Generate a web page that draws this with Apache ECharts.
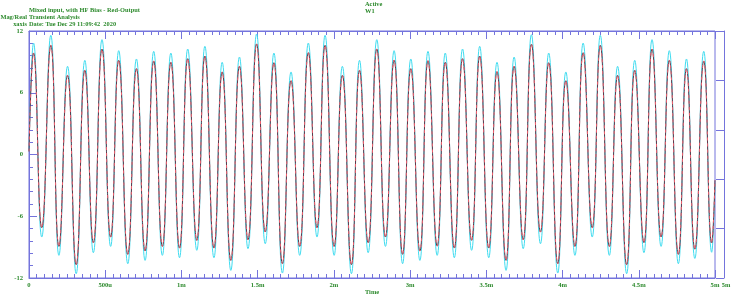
<!DOCTYPE html>
<html>
<head>
<meta charset="utf-8">
<script src="https://cdn.jsdelivr.net/npm/echarts@6/dist/echarts.min.js"></script>
<style>
html,body{margin:0;padding:0;background:#fff;}
#c{width:732px;height:297px;}
</style>
</head>
<body>
<div id="c"></div>
<script>
// ---- data ----
// x tick labels (9 equal divisions from 0 to 5 ms, labels as printed)
const xTickLabels = ['0','500u','1m','1.5m','2m','3m','3.5m','4m','4.5m','5m'];
const xAxisTitle = 'Time';
const timeStartMs = 0;
const timeEndMs = 5;
// times (ms) of the peaks and troughs of the traces
const peakTimeMs = [0.033,0.159,0.281,0.407,0.532,0.654,0.783,0.909,1.034,1.157,
  1.282,1.408,1.534,1.659,1.785,1.910,2.036,2.158,2.284,2.409,
  2.535,2.661,2.783,2.908,3.034,3.160,3.285,3.411,3.536,3.662,
  3.788,3.913,4.039,4.164,4.290,4.415,4.541,4.667,4.792,4.918];
const troughTimeMs = [0.093,0.218,0.344,0.469,0.595,0.720,0.846,0.972,1.097,1.223,
  1.348,1.471,1.596,1.722,1.847,1.973,2.099,2.224,2.350,2.472,
  2.598,2.723,2.849,2.975,3.100,3.226,3.351,3.477,3.602,3.728,
  3.854,3.979,4.105,4.230,4.356,4.482,4.607,4.733,4.853,4.976];
// red output trace
const outStart = 0.3;
const outPeak = [9.86,10.61,7.69,8.18,10.25,9.15,8.34,9.08,8.96,9.31,
  9.57,8.02,8.57,10.74,8.92,7.17,9.89,10.61,7.69,8.18,
  10.25,9.18,8.34,9.11,8.96,9.31,9.57,8.05,8.57,10.71,
  8.92,7.17,9.89,10.61,7.69,8.18,10.25,9.15,8.34,9.08];
const outTrough = [-7.11,-8.93,-10.71,-8.57,-8.02,-9.70,-9.38,-8.93,-9.09,-8.34,
  -9.09,-10.29,-8.28,-7.53,-10.61,-8.93,-7.11,-8.93,-10.71,-8.57,
  -8.02,-9.70,-9.38,-8.90,-9.09,-8.34,-9.09,-10.29,-8.28,-7.53,
  -10.61,-8.93,-7.11,-8.93,-10.71,-8.57,-8.02,-9.70,-9.20,-8.60];
const outEnd = -2.5;
// cyan input trace
const inStart = 0.3;
const inPeak = [10.83,11.58,8.57,9.15,11.16,10.09,9.28,10.02,9.86,10.25,
  10.51,8.96,9.47,11.71,9.86,8.02,10.83,11.58,8.57,9.15,
  11.16,10.09,9.28,10.02,9.86,10.25,10.51,8.96,9.47,11.64,
  9.86,8.02,10.83,11.58,8.57,9.15,11.16,10.09,9.28,10.02];
const inTrough = [-8.02,-9.80,-11.58,-9.54,-8.93,-10.61,-10.29,-9.80,-10.03,-9.31,
  -10.03,-11.26,-9.15,-8.67,-11.52,-9.80,-8.02,-9.80,-11.58,-9.54,
  -8.93,-10.61,-10.29,-9.80,-10.03,-9.31,-10.03,-11.26,-9.15,-8.67,
  -11.52,-9.80,-8.02,-9.80,-11.58,-9.54,-8.93,-10.61,-10.10,-9.50];
const inEnd = -2.8;

// ---- build ----
const DIV_PER_MS = (xTickLabels.length - 1) / (timeEndMs - timeStartMs);
function trace(startV, peaks, troughs, endV) {
  const pts = [[timeStartMs * DIV_PER_MS, startV]];
  for (let i = 0; i < peaks.length; i++) {
    pts.push([peakTimeMs[i] * DIV_PER_MS, peaks[i]]);
    pts.push([troughTimeMs[i] * DIV_PER_MS, troughs[i]]);
  }
  pts.push([timeEndMs * DIV_PER_MS, endV]);
  return pts;
}
const AX = '#7474dc';
const GR = '#2d8a2d';
const FONT = 'Liberation Serif';
function txt(s, x, y, align) {
  return {type:'text', x:x, y:y, silent:true,
    style:{text:s, fill:GR, font:'bold 6.4px "Liberation Serif"', textAlign:align, textVerticalAlign:'middle', verticalAlign:'middle'}};
}
const chart = echarts.init(document.getElementById('c'), null, {renderer:'canvas'});
const lbl = {color:GR, fontFamily:FONT, fontWeight:'bold', fontSize:6.6};
chart.setOption({
  animation:false,
  backgroundColor:'#ffffff',
  grid:{left:29, right:17, top:31, bottom:19, containLabel:false, outerBoundsMode:'none',
        show:true, borderColor:AX, borderWidth:1},
  xAxis:[
    {type:'value', min:0, max:xTickLabels.length-1, interval:1, position:'bottom',
     axisLine:{show:true, onZero:false, lineStyle:{color:AX, width:1}},
     axisTick:{show:true, inside:true, length:8, lineStyle:{color:AX}},
     minorTick:{show:true, splitNumber:10, length:4, lineStyle:{color:AX}},
     splitLine:{show:false},
     axisLabel:Object.assign({margin:4, formatter:function(v){return xTickLabels[Math.round(v)];}}, lbl)},
    {type:'value', min:0, max:xTickLabels.length-1, interval:1, position:'top',
     axisLine:{show:true, onZero:false, lineStyle:{color:AX, width:1}},
     axisTick:{show:true, inside:true, length:8, lineStyle:{color:AX}},
     minorTick:{show:true, splitNumber:10, length:4, lineStyle:{color:AX}},
     splitLine:{show:false}, axisLabel:{show:false}}
  ],
  yAxis:[
    {type:'value', min:-12, max:12, interval:6, position:'left',
     axisLine:{show:true, onZero:false, lineStyle:{color:AX, width:1}},
     axisTick:{show:true, inside:true, length:8, lineStyle:{color:AX}},
     minorTick:{show:true, splitNumber:5, length:4, lineStyle:{color:AX}},
     splitLine:{show:false},
     axisLabel:Object.assign({margin:6}, lbl)},
    {type:'value', min:0, max:5, interval:1, position:'right', offset:9,
     axisLine:{show:true, onZero:false, lineStyle:{color:AX, width:1}},
     axisTick:{show:true, inside:true, length:8, lineStyle:{color:AX}},
     splitLine:{show:false}, axisLabel:{show:false}}
  ],
  graphic:[
    txt('Mixed input, with HF Bias - Red-Output', 29, 10.5, 'left'),
    txt('Transient Analysis', 29, 17.5, 'left'),
    txt('Date: Tue Dec 29 11:09:42  2020', 29, 24.5, 'left'),
    txt('Mag/Real', 27, 17.5, 'right'),
    txt('xaxis', 27, 24.5, 'right'),
    txt('Active', 365, 4, 'left'),
    txt('W1', 365, 11, 'left'),
    txt('5m', 726, 285.5, 'center'),
    txt(xAxisTitle, 372, 292, 'center')
  ],
  series:[
    {type:'line', name:'input', xAxisIndex:0, yAxisIndex:0, data:trace(inStart, inPeak, inTrough, inEnd),
     smooth:0.5, showSymbol:false, lineStyle:{color:'#3fdcf0', width:1}, z:2},
    {type:'line', name:'output', xAxisIndex:0, yAxisIndex:0, data:trace(outStart, outPeak, outTrough, outEnd),
     smooth:0.5, showSymbol:false, lineStyle:{color:'#5e3a4a', width:1}, z:3},
    {type:'line', name:'output-red', xAxisIndex:0, yAxisIndex:0, data:trace(outStart, outPeak, outTrough, outEnd),
     smooth:0.5, showSymbol:false, lineStyle:{color:'#f0606e', width:1, type:[3,3]}, z:4}
  ]
});
</script>
</body>
</html>
